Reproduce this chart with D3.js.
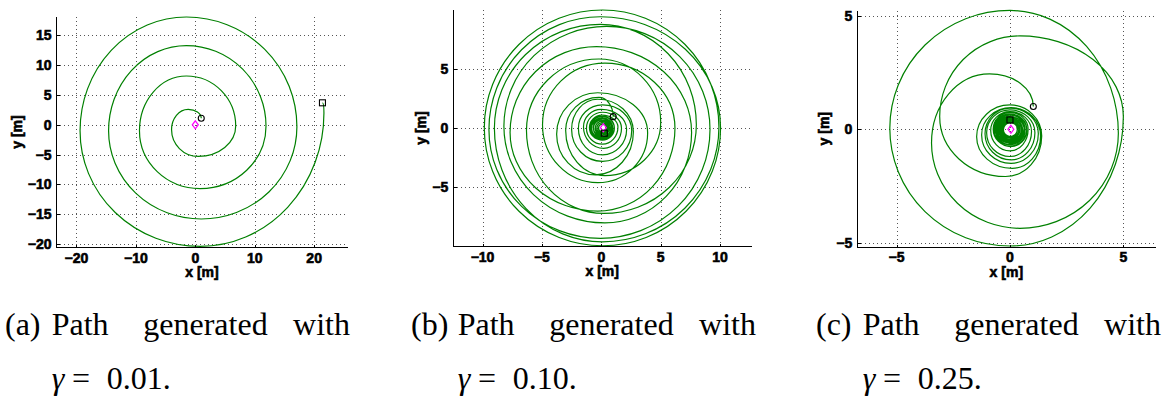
<!DOCTYPE html>
<html>
<head>
<meta charset="utf-8">
<script src="https://cdn.jsdelivr.net/npm/d3@7"></script>
<style>
  body { margin: 0; background: #fff; }
  svg { display: block; }
</style>
</head>
<body>
<svg id="fig" width="1164" height="400"></svg>
<script>
// ---- tick values -------------------------------------------------------
const xTicksA = [-20, -10, 0, 10, 20];
const yTicksA = [-20, -15, -10, -5, 0, 5, 10, 15];
const xTicksB = [-10, -5, 0, 5, 10];
const yTicksB = [-5, 0, 5];
const xTicksC = [-5, 0, 5];
const yTicksC = [-5, 0, 5];

// ---- axis limits (metres) ---------------------------------------------
const xLimA = [-23.45, 25.7], yLimA = [-20.5, 18.1];
const xLimB = [-12.51, 12.66], yLimB = [-9.95, 9.99];
const xLimC = [-6.76, 6.44],  yLimC = [-5.17, 5.22];

// ---- path waypoints: successive extreme points of each loop,
//      alternating right/top/left/bottom (counter-clockwise travel) --------
const pathA = [
  [1.0, 1.1],
  [-1.2, 2.6], [-4.0, -0.8], [0.5, -5.3], [6.8, -0.2],
  [-1.5, 8.2], [-9.4, -1.0], [0.8, -10.7], [11.9, -0.2],
  [-1.5, 13.3], [-14.6, -1.0], [1.0, -15.8], [17.1, -0.3],
  [-1.5, 18.1], [-19.4, -1.0], [0.8, -20.4], [21.65, 2.0],
  [21.4, 3.7]
];

const pathB = [
  [1.0, 0.98],
  [-0.2, 2.6], [-3.0, -0.2], [0.3, -4.0], [5.0, 0.5],
  [-0.2, 5.85], [-6.3, -0.2], [0.2, -7.2], [8.0, 0.3],
  [-0.1, 8.78], [-9.0, 0.0], [0.1, -9.6], [9.9, 0.1],
  [0.1, 9.99], [-9.85, 0.03], [0.12, -9.93], [10.04, 0.03],
  [-0.08, 9.42], [-9.46, -0.1], [-0.08, -9.3], [9.15, -0.1],
  [0.45, 8.6], [-8.2, 0.17], [0.3, -8.0], [7.6, -0.35],
  [-0.4, 6.9], [-7.68, -0.35], [-0.3, -7.0], [6.2, 0.0],
  [0.3, 5.5], [-4.95, 0.3], [-0.3, -4.6], [3.9, -0.4],
  [-0.3, 3.0], [-3.76, -0.5], [-0.5, -3.94], [2.7, -0.3],
  [-0.3, 2.45], [-2.5, -0.1], [0.1, -2.8], [2.56, -0.2],
  [0.1, 1.97], [-1.93, 0.0], [0.1, -2.25], [2.13, -0.1],
  [0.0, 1.6], [-1.5, 0.1], [0.2, -1.7], [1.7, 0.0],
  [0.1, 1.35], [-1.25, 0.0], [0.1, -1.35], [1.4, 0.1],
  [0.05, 1.10], [-1.00, 0.05], [0.05, -1.00], [1.10, 0.05],
  [0.10, 1.00], [-0.90, 0.00], [0.10, -1.00], [1.10, 0.00],
  [0.00, 1.00], [-0.95, 0.05], [0.00, -0.90], [0.95, 0.05],
  [0.08, 0.87], [-0.82, -0.03], [0.08, -0.93], [0.98, -0.03],
  [0.02, 0.86], [-0.82, 0.02], [0.02, -0.82], [0.86, 0.02],
  [0.10, 0.83], [-0.68, 0.05], [0.10, -0.73], [0.88, 0.05],
  [0.05, 0.70], [-0.67, -0.02], [0.05, -0.74], [0.77, -0.02],
  [0.00, 0.70], [-0.66, 0.04], [0.00, -0.62], [0.66, 0.04],
  [0.08, 0.60], [-0.52, 0.00], [0.08, -0.60], [0.68, 0.00],
  [0.04, 0.59], [-0.50, 0.05], [0.04, -0.49], [0.58, 0.05],
  [0.10, 0.48], [-0.38, 0.00], [0.10, -0.48], [0.58, 0.00],
  [0.05, 0.45], [-0.37, 0.03], [0.05, -0.39], [0.47, 0.03],
  [0.12, 0.36], [-0.24, 0.00], [0.12, -0.36], [0.48, 0.00],
  [0.08, 0.32], [-0.22, 0.02], [0.08, -0.28], [0.38, 0.02],
  [0.10, 0.35], [-0.25, 0.00], [0.25, -0.42]
];

const pathC = [
  [1.03, 1.0],
  [-0.9, 2.44], [-3.46, -0.6], [0.44, -4.36], [4.78, -0.18],
  [0.0, 5.23], [-5.3, 0.04], [0.0, -5.14], [5.0, 0.56],
  [0.44, 4.11], [-3.1, 0.56], [-0.2, -2.08], [1.4, -0.3],
  [0.0, 1.07], [-1.47, -0.33], [0.1, -1.72], [1.35, -0.3],
  [0.05, 0.95], [-1.25, -0.25], [0.05, -1.5], [1.25, -0.2],
  [0.0, 0.93], [-1.1, -0.2], [0.05, -1.35], [1.1, -0.15],
  [0.0, 0.85], [-1.03, -0.15], [0.0, -1.2], [0.95, -0.1],
  [0.0, 0.78], [-0.85, -0.05], [0.0, -0.95], [0.8, 0.0],
  [0.00, 0.74], [-0.74, 0.00], [0.00, -0.74], [0.74, 0.00],
  [0.03, 0.66], [-0.68, -0.05], [0.03, -0.76], [0.74, -0.05],
  [-0.02, 0.68], [-0.70, 0.00], [-0.02, -0.68], [0.66, 0.00],
  [0.02, 0.62], [-0.63, -0.03], [0.02, -0.68], [0.67, -0.03],
  [0.00, 0.64], [-0.62, 0.02], [0.00, -0.60], [0.62, 0.02],
  [0.04, 0.55], [-0.55, -0.04], [0.04, -0.63], [0.63, -0.04],
  [-0.02, 0.56], [-0.58, 0.00], [-0.02, -0.56], [0.54, 0.00],
  [0.03, 0.50], [-0.50, -0.03], [0.03, -0.56], [0.56, -0.03],
  [0.00, 0.50], [-0.50, 0.00], [0.00, -0.50], [0.50, 0.00],
  [0.04, 0.43], [-0.43, -0.04], [0.04, -0.51], [0.51, -0.04],
  [-0.01, 0.45], [-0.46, 0.00], [-0.01, -0.45], [0.44, 0.00],
  [0.02, 0.39], [-0.39, -0.03], [0.02, -0.45], [0.43, -0.03],
  [0.00, 0.39], [-0.39, 0.00], [0.00, -0.39], [0.39, 0.00],
  [0.03, 0.33], [-0.33, -0.03], [0.03, -0.39], [0.39, -0.03],
  [-0.01, 0.34], [-0.35, 0.00], [-0.01, -0.34], [0.33, 0.00],
  [0.02, 0.29], [-0.29, -0.02], [0.02, -0.32], [0.32, -0.02],
  [0.00, 0.41]
];

// ---- start (circle), target (diamond) and final position (square) ---------
const startPts = [[1.0, 1.1], [1.0, 0.98], [1.03, 1.0]];
const targetPts = [[0.0, 0.0], [0.17, 0.05], [0.04, 0.0]];
const endPts = [[21.4, 3.7], [0.25, -0.42], [0.0, 0.41]];

// ---- captions ------------------------------------------------------------
const captionTags = ["(a)", "(b)", "(c)"];
const captionWords = ["Path", "generated", "with"];
const gammaValues = ["0.01.", "0.10.", "0.25."];

// ---- layout of the three panels (pixel boxes) ----------------------------
const panels = [
  { box: [56, 17, 348, 247],         xLim: xLimA, yLim: yLimA, xTicks: xTicksA, yTicks: yTicksA, path: pathA, yTitleX: 22,  capShift: 0 },
  { box: [452.7, 10, 751.7, 246],    xLim: xLimB, yLim: yLimB, xTicks: xTicksB, yTicks: yTicksB, path: pathB, yTitleX: 426, capShift: 406 },
  { box: [856.7, 10.7, 1156, 246.7], xLim: xLimC, yLim: yLimC, xTicks: xTicksC, yTicks: yTicksC, path: pathC, yTitleX: 829, capShift: 811 }
];

const svg = d3.select("#fig");
const fmt = v => (v < 0 ? "\u2212" + Math.abs(v) : String(v));

// heavy sans labels (stroke thickens the glyphs)
function sansBold(sel, size) {
  return sel.attr("font-family", "Liberation Sans, Arial, sans-serif")
    .attr("font-weight", "bold").attr("font-size", size).attr("fill", "#000")
    .attr("stroke", "#000").attr("stroke-width", 0.6);
}
function serif(sel) {
  return sel.attr("font-family", "Liberation Serif, DejaVu Serif, serif")
    .attr("font-size", 32).attr("fill", "#000");
}

// Chain of quarter-ellipse arcs joining consecutive extreme points.
function loopPath(points, sx, sy) {
  let d = `M${sx(points[0][0])},${sy(points[0][1])}`;
  for (let i = 1; i < points.length; i++) {
    const x0 = sx(points[i - 1][0]), y0 = sy(points[i - 1][1]);
    const x1 = sx(points[i][0]), y1 = sy(points[i][1]);
    const rx = Math.abs(x1 - x0), ry = Math.abs(y1 - y0);
    d += ` A${rx},${ry} 0 0 0 ${x1},${y1}`;
  }
  return d;
}

panels.forEach((p, k) => {
  const [x0, y0, x1, y1] = p.box;
  const sx = d3.scaleLinear().domain(p.xLim).range([x0, x1]);
  const sy = d3.scaleLinear().domain(p.yLim).range([y1, y0]);
  const g = svg.append("g");

  // dotted grid
  const grid = g.append("g").attr("stroke", "#555").attr("stroke-width", 1)
    .attr("stroke-dasharray", "1,3").attr("shape-rendering", "crispEdges");
  p.xTicks.forEach(t => {
    const x = Math.round(sx(t)) + 0.5;
    grid.append("line").attr("x1", x).attr("x2", x).attr("y1", y0).attr("y2", y1);
  });
  p.yTicks.forEach(t => {
    const y = Math.round(sy(t)) + 0.5;
    grid.append("line").attr("x1", x0).attr("x2", x1).attr("y1", y).attr("y2", y);
  });

  // travelled path
  g.append("path")
    .attr("d", loopPath(p.path, sx, sy))
    .attr("fill", "none")
    .attr("stroke", "#008000")
    .attr("stroke-width", 1.2);

  // markers
  const s = startPts[k], t = targetPts[k], e = endPts[k];
  g.append("circle").attr("cx", sx(s[0])).attr("cy", sy(s[1])).attr("r", 3)
    .attr("fill", "none").attr("stroke", "#000").attr("stroke-width", 1.1);
  g.append("path")
    .attr("d", `M${sx(t[0])},${sy(t[1]) - 4} l3,4 l-3,4 l-3,-4 z`)
    .attr("fill", "none").attr("stroke", "#ff00ff").attr("stroke-width", 1.2);
  g.append("rect").attr("x", sx(e[0]) - 3).attr("y", sy(e[1]) - 3)
    .attr("width", 6).attr("height", 6)
    .attr("fill", "none").attr("stroke", "#000").attr("stroke-width", 1.1);

  // axes (left and bottom only), ticks pointing inwards
  const ax = g.append("g").attr("stroke", "#000").attr("stroke-width", 1).attr("shape-rendering", "crispEdges");
  const lx = Math.round(x0) + 0.5, by = Math.round(y1) + 0.5;
  ax.append("line").attr("x1", lx).attr("x2", lx).attr("y1", y0).attr("y2", by);
  ax.append("line").attr("x1", lx).attr("x2", x1).attr("y1", by).attr("y2", by);
  p.xTicks.forEach(v => {
    const x = Math.round(sx(v)) + 0.5;
    ax.append("line").attr("x1", x).attr("x2", x).attr("y1", by).attr("y2", by - 3);
  });
  p.yTicks.forEach(v => {
    const y = Math.round(sy(v)) + 0.5;
    ax.append("line").attr("x1", lx).attr("x2", lx + 3).attr("y1", y).attr("y2", y);
  });

  // tick labels
  p.xTicks.forEach(v => {
    sansBold(g.append("text"), 14).attr("x", sx(v)).attr("y", y1 + 15.5)
      .attr("text-anchor", "middle").text(fmt(v));
  });
  p.yTicks.forEach(v => {
    sansBold(g.append("text"), 14).attr("x", x0 - 4.5).attr("y", sy(v) + 5)
      .attr("text-anchor", "end").text(fmt(v));
  });

  // axis titles
  sansBold(g.append("text"), 14).attr("x", (x0 + x1) / 2).attr("y", y1 + 30)
    .attr("text-anchor", "middle").text("x [m]");
  sansBold(g.append("text"), 14)
    .attr("transform", `translate(${p.yTitleX},${(y0 + y1) / 2}) rotate(-90)`)
    .attr("text-anchor", "middle").text("y [m]");

  // sub-caption, justified over two lines
  const c = p.capShift;
  serif(svg.append("text")).attr("x", 5 + c).attr("y", 335).text(captionTags[k]);
  serif(svg.append("text")).attr("x", 51.7 + c).attr("y", 335).text(captionWords[0]);
  serif(svg.append("text")).attr("x", 143.3 + c).attr("y", 335).text(captionWords[1]);
  serif(svg.append("text")).attr("x", 350 + c).attr("y", 335).attr("text-anchor", "end").text(captionWords[2]);
  serif(svg.append("text")).attr("x", 51.7 + c).attr("y", 389).attr("font-style", "italic").text("\u03B3");
  serif(svg.append("text")).attr("x", 72 + c).attr("y", 389).attr("textLength", 24).text("=");
  serif(svg.append("text")).attr("x", 106.7 + c).attr("y", 389).text(gammaValues[k]);
});
</script>
</body>
</html>
